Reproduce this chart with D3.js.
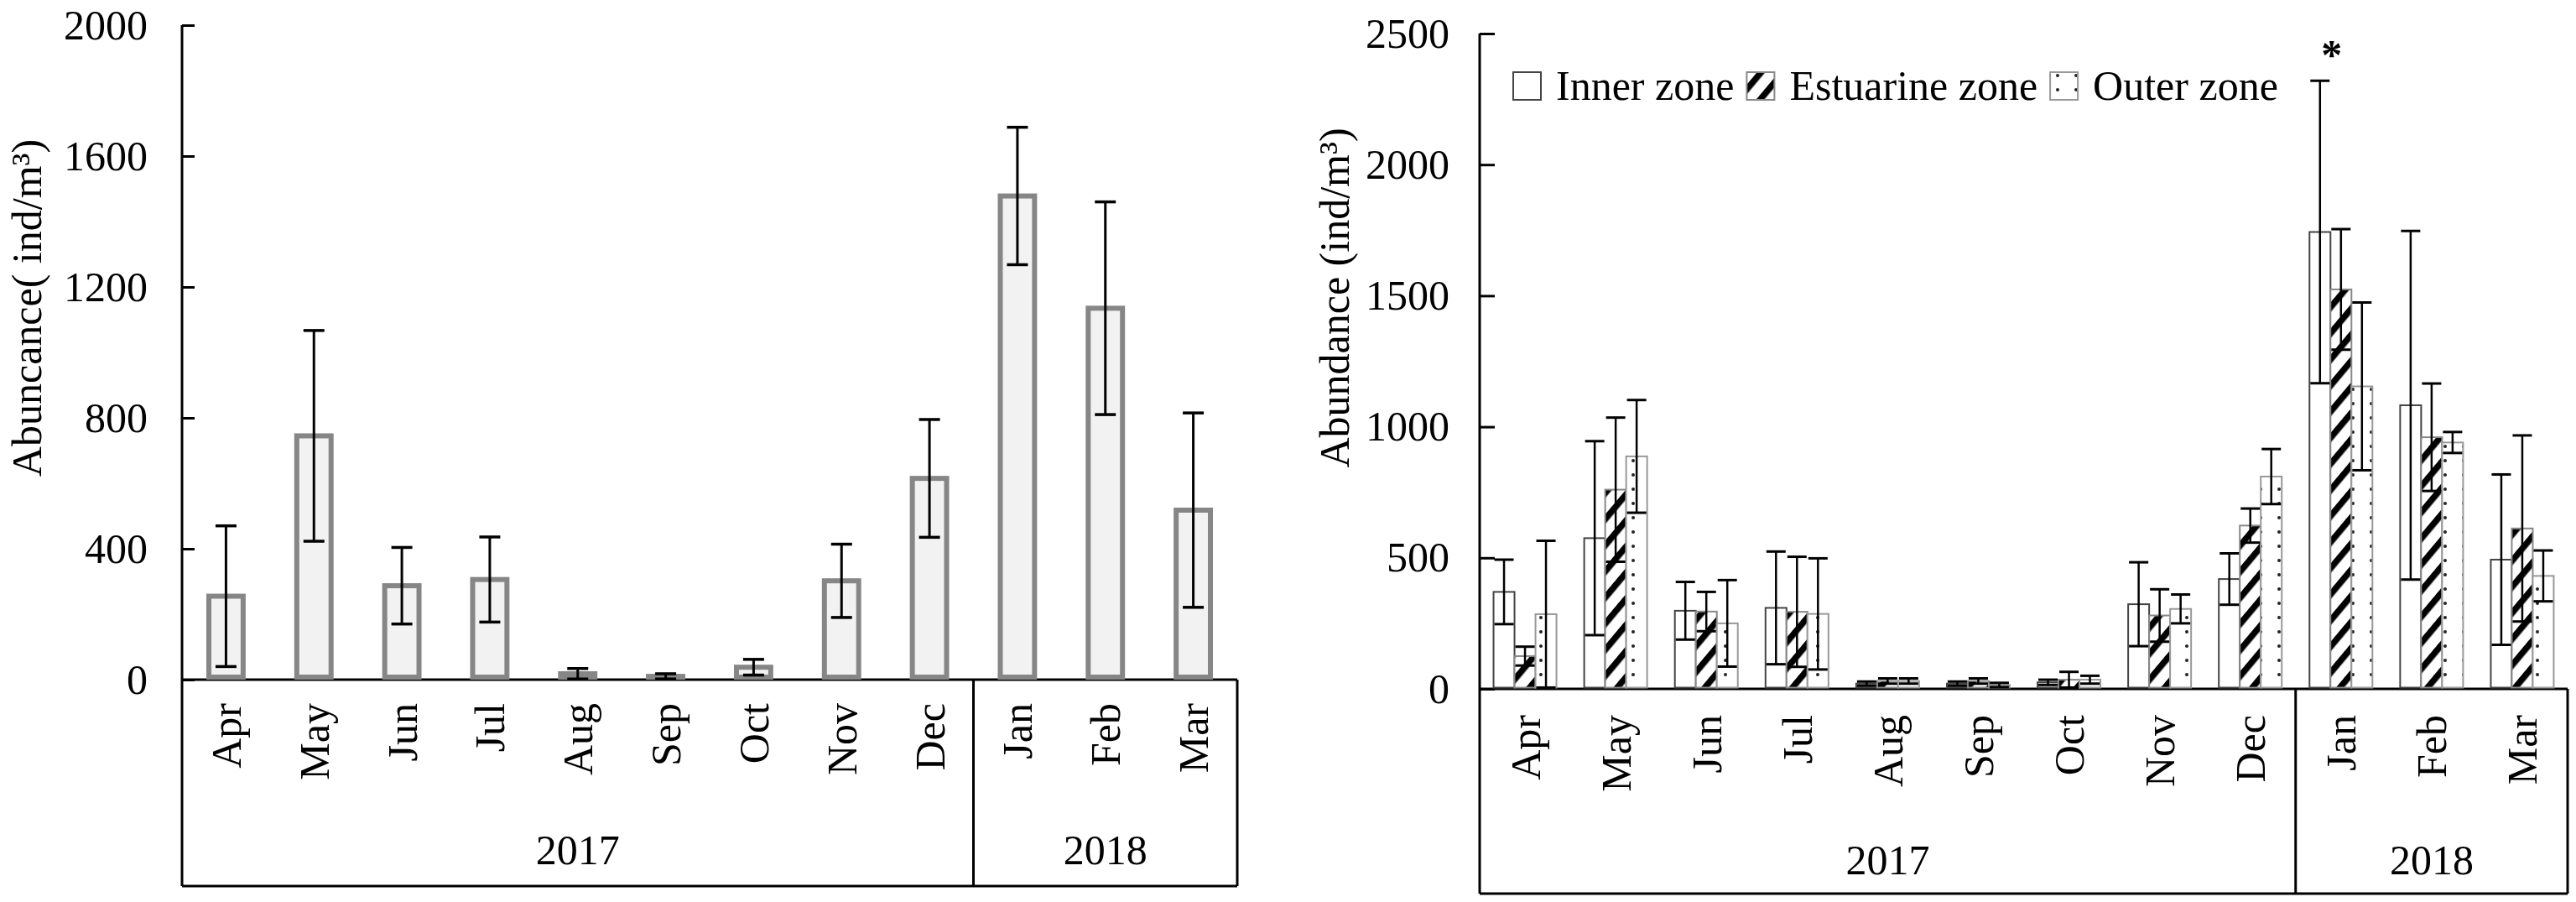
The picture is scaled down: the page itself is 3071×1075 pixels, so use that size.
<!DOCTYPE html>
<html>
<head>
<meta charset="utf-8">
<script src="https://cdn.jsdelivr.net/npm/d3@7"></script>
<style>
  body { margin: 0; background: #fff; }
  text { font-family: 'Liberation Serif', 'Times New Roman', serif; font-size: 50px; fill: #000; }
</style>
</head>
<body>
<svg id="chart" width="3071" height="1075"></svg>
<script>
// categories
const months = ['Apr', 'May', 'Jun', 'Jul', 'Aug', 'Sep', 'Oct', 'Nov', 'Dec', 'Jan', 'Feb', 'Mar'];
const yearOf = ['2017', '2017', '2017', '2017', '2017', '2017', '2017', '2017', '2017', '2018', '2018', '2018'];

// left panel: total abundance, mean and SD
const totalMean = [255, 745, 287, 306, 18, 10, 38, 302, 615, 1478, 1135, 518];
const totalSd = [215, 322, 117, 130, 16, 8, 24, 112, 180, 210, 325, 297];
const leftTicks = [0, 400, 800, 1200, 1600, 2000];

// right panel: by zone
const zones = ['Inner zone', 'Estuarine zone', 'Outer zone'];
const innerMean = [370, 575, 298, 309, 20, 20, 25, 323, 419, 1743, 1082, 493];
const innerSd = [123, 370, 110, 215, 8, 8, 10, 160, 98, 577, 665, 325];
const estuarineMean = [125, 760, 295, 294, 30, 30, 35, 280, 623, 1524, 960, 612];
const estuarineSd = [36, 275, 75, 210, 10, 10, 30, 100, 65, 230, 205, 355];
const outerMean = [285, 887, 250, 286, 30, 15, 35, 305, 810, 1154, 940, 431];
const outerSd = [280, 215, 165, 212, 10, 8, 15, 55, 105, 320, 40, 97];
const rightTicks = [0, 500, 1000, 1500, 2000, 2500];
const markedMonth = 'Jan'; // asterisk above inner zone

const svg = d3.select('#chart');

// fill patterns
const defs = svg.append('defs');
const hatch = defs.append('pattern')
    .attr('id', 'hatch')
    .attr('patternUnits', 'userSpaceOnUse')
    .attr('width', 20).attr('height', 20)
    .attr('patternTransform', 'rotate(40)');
hatch.append('rect').attr('width', 20).attr('height', 20).attr('fill', '#fff');
hatch.append('rect').attr('width', 7.5).attr('height', 20).attr('fill', '#000');

const dots = defs.append('pattern')
    .attr('id', 'dots')
    .attr('patternUnits', 'userSpaceOnUse')
    .attr('width', 22).attr('height', 17);
dots.append('rect').attr('width', 22).attr('height', 17).attr('fill', '#fff');
dots.append('circle').attr('cx', 11).attr('cy', 5).attr('r', 2).attr('fill', '#222');

const zoneStyle = {
    'Inner zone': { fill: '#fff', stroke: '#444', width: 2 },
    'Estuarine zone': { fill: 'url(#hatch)', stroke: '#888', width: 2 },
    'Outer zone': { fill: 'url(#dots)', stroke: '#999', width: 2 }
};

// shared frame: y axis with inward ticks, month labels, year boxes
function drawFrame(p) {
    const g = svg.append('g');
    const x = d3.scaleBand().domain(months).range([p.left, p.right]);
    const y = d3.scaleLinear().domain([0, p.max]).range([p.zero, p.top]);

    const ax = g.append('g')
        .attr('transform', `translate(${p.left},0)`)
        .call(d3.axisLeft(y)
            .tickValues(p.ticks)
            .tickSizeInner(-p.tickLen)
            .tickSizeOuter(0)
            .tickPadding(p.tickPad)
            .tickFormat(d3.format('d')));
    ax.select('.domain').remove();
    ax.selectAll('line').attr('stroke', '#000').attr('stroke-width', 3);

    const line = (x1, y1, x2, y2) => g.append('line')
        .attr('x1', x1).attr('y1', y1).attr('x2', x2).attr('y2', y2)
        .attr('stroke', '#000').attr('stroke-width', 3);

    line(p.left, p.top, p.left, p.bottom);
    line(p.left, y(0), p.right, y(0));
    line(p.right, y(0), p.right, p.bottom);
    line(p.left, p.bottom, p.right, p.bottom);

    const yearNames = Array.from(new Set(yearOf));
    yearNames.forEach((yr, k) => {
        const ms = months.filter((m, i) => yearOf[i] === yr);
        const x0 = x(ms[0]);
        const x1 = x(ms[ms.length - 1]) + x.bandwidth();
        if (k > 0) line(x0, y(0), x0, p.bottom);
        g.append('text')
            .attr('x', (x0 + x1) / 2)
            .attr('y', p.yearY)
            .attr('text-anchor', 'middle')
            .attr('dy', '0.35em')
            .text(yr);
    });

    g.selectAll('text.month')
        .data(months)
        .join('text')
        .attr('class', 'month')
        .attr('transform', d => `translate(${x(d) + x.bandwidth() / 2},${p.labelTop}) rotate(-90)`)
        .attr('text-anchor', 'end')
        .attr('dy', '0.35em')
        .text(d => d);

    g.append('text')
        .attr('transform', `translate(${p.titleX},${p.titleY}) rotate(-90)`)
        .attr('text-anchor', 'middle')
        .attr('dy', '0.35em')
        .text(p.title);

    return { g, x, y };
}

function errorBar(g, cx, y, mean, sd, cap, sw) {
    const top = y(mean + sd);
    const bot = y(Math.max(0, mean - sd));
    g.append('line').attr('x1', cx).attr('x2', cx).attr('y1', top).attr('y2', bot)
        .attr('stroke', '#000').attr('stroke-width', sw);
    [top, bot].forEach(v => g.append('line')
        .attr('x1', cx - cap / 2).attr('x2', cx + cap / 2).attr('y1', v).attr('y2', v)
        .attr('stroke', '#000').attr('stroke-width', sw + 0.5));
}

// ---- left panel ----
const L = drawFrame({
    left: 217, right: 1475, top: 30, zero: 810, bottom: 1056, max: 2000,
    ticks: leftTicks, tickLen: 15, tickPad: 41, labelTop: 838, yearY: 1012,
    titleX: 31, titleY: 367, title: 'Abuncance( ind/m³)'
});
const lbw = L.x.bandwidth() * 0.39;
L.g.selectAll('rect.total')
    .data(months)
    .join('rect')
    .attr('class', 'total')
    .attr('x', d => L.x(d) + L.x.bandwidth() / 2 - lbw / 2)
    .attr('width', lbw)
    .attr('y', (d, i) => L.y(totalMean[i]))
    .attr('height', (d, i) => L.y(0) - L.y(totalMean[i]) - 3)
    .attr('fill', '#f2f2f2')
    .attr('stroke', '#868686')
    .attr('stroke-width', 6);
months.forEach((m, i) => errorBar(L.g, L.x(m) + L.x.bandwidth() / 2, L.y, totalMean[i], totalSd[i], 25, 3));

// ---- right panel ----
const R = drawFrame({
    left: 1764, right: 3061, top: 40, zero: 821, bottom: 1065, max: 2500,
    ticks: rightTicks, tickLen: 18, tickPad: 36, labelTop: 852, yearY: 1024,
    titleX: 1590, titleY: 355, title: 'Abundance (ind/m³)'
});
const zoneMean = [innerMean, estuarineMean, outerMean];
const zoneSd = [innerSd, estuarineSd, outerSd];
const groupW = R.x.bandwidth() * 0.694;
const xz = d3.scaleBand().domain(zones).range([0, groupW]);
const gOff = (R.x.bandwidth() - groupW) / 2;

zones.forEach((z, k) => {
    const st = zoneStyle[z];
    R.g.selectAll(`rect.z${k}`)
        .data(months)
        .join('rect')
        .attr('class', `z${k}`)
        .attr('x', d => R.x(d) + gOff + xz(z))
        .attr('width', xz.bandwidth())
        .attr('y', (d, i) => R.y(zoneMean[k][i]))
        .attr('height', (d, i) => R.y(0) - R.y(zoneMean[k][i]) - 1.5)
        .attr('fill', st.fill)
        .attr('stroke', st.stroke)
        .attr('stroke-width', st.width);
});
zones.forEach((z, k) => {
    months.forEach((m, i) => errorBar(R.g, R.x(m) + gOff + xz(z) + xz.bandwidth() / 2,
        R.y, zoneMean[k][i], zoneSd[k][i], 23, 2.5));
});

// significance mark
const mi = months.indexOf(markedMonth);
R.g.append('text')
    .attr('x', R.x(markedMonth) + gOff + xz(zones[0]) + xz.bandwidth() / 2 + 14)
    .attr('y', R.y(innerMean[mi] + innerSd[mi]) - 14)
    .attr('text-anchor', 'middle')
    .attr('font-weight', 'bold')
    .text('*');

// legend
const leg = R.g.append('g');
let lx = 1804;
zones.forEach(z => {
    const st = zoneStyle[z];
    leg.append('rect')
        .attr('x', lx).attr('y', 86).attr('width', 33).attr('height', 33)
        .attr('fill', st.fill).attr('stroke', st.stroke).attr('stroke-width', 2);
    const t = leg.append('text').attr('x', lx + 51).attr('y', 119).text(z);
    lx += 51 + t.node().getComputedTextLength() + 15;
});
</script>
</body>
</html>
